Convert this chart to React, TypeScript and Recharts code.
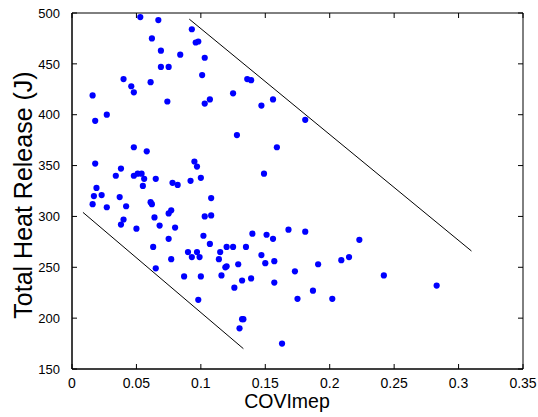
import { ReferenceArea, Scatter, ScatterChart, XAxis, YAxis } from "recharts";

// COVImep vs total heat release
const covImep = [
  0.053, 0.067, 0.093, 0.062, 0.096, 0.098, 0.069, 0.084, 0.103, 0.069, 0.075, 0.04, 0.101, 0.061,
  0.046, 0.048, 0.016, 0.074, 0.103, 0.107, 0.125, 0.027, 0.018, 0.128, 0.048, 0.058, 0.018, 0.095,
  0.097, 0.038, 0.034, 0.048, 0.051, 0.054, 0.056, 0.055, 0.065, 0.078, 0.082, 0.092, 0.1, 0.019,
  0.017, 0.023, 0.016, 0.027, 0.037, 0.042, 0.04, 0.038, 0.05, 0.061, 0.062, 0.064, 0.068, 0.063,
  0.065, 0.075, 0.077, 0.08, 0.075, 0.077, 0.087, 0.09, 0.093, 0.097, 0.099, 0.1, 0.098, 0.103,
  0.108, 0.108, 0.102, 0.107, 0.115, 0.114, 0.12, 0.125, 0.12, 0.119, 0.116, 0.126, 0.129, 0.132,
  0.139, 0.135, 0.14, 0.147, 0.15, 0.151, 0.156, 0.157, 0.157, 0.168, 0.173, 0.175, 0.181, 0.187,
  0.191, 0.202, 0.209, 0.215, 0.223, 0.242, 0.132, 0.133, 0.13, 0.163, 0.136, 0.139, 0.156, 0.147,
  0.181, 0.159, 0.149, 0.283
];
const heatRelease = [
  496, 493, 484, 475, 471, 472, 463, 459, 456, 447, 447, 435, 439, 432, 428, 422, 419, 413, 411,
  415, 421, 400, 394, 380, 368, 364, 352, 354, 349, 347, 340, 340, 342, 342, 337, 330, 337, 333,
  331, 335, 338, 328, 320, 321, 312, 309, 319, 310, 297, 292, 288, 314, 312, 299, 291, 270, 249,
  303, 306, 289, 278, 258, 241, 265, 260, 265, 260, 241, 218, 300, 318, 301, 281, 273, 265, 258,
  270, 270, 251, 250, 242, 230, 253, 237, 239, 270, 283, 262, 254, 282, 278, 256, 235, 287, 246,
  219, 285, 227, 253, 219, 257, 260, 277, 242, 199, 199, 190, 175, 435, 434, 415, 409, 395, 368,
  342, 232
];

// the two bounding lines
const upperLineX = [0.091, 0.31];
const upperLineY = [494, 266];
const lowerLineX = [0.0085, 0.133];
const lowerLineY = [304, 170];

const xTicks = [0, 0.05, 0.1, 0.15, 0.2, 0.25, 0.3, 0.35];
const yTicks = [150, 200, 250, 300, 350, 400, 450, 500];

const points = covImep.map((x, i) => ({ x, y: heatRelease[i] }));
const upperLine = upperLineX.map((x, i) => ({ x, y: upperLineY[i] }));
const lowerLine = lowerLineX.map((x, i) => ({ x, y: lowerLineY[i] }));

const font = "'Liberation Sans', Arial, sans-serif";

// plot box (matches the chart margins below)
const TOP = 13;
const BOTTOM = 369;
const LEFT = 72;
const RIGHT = 523;
const TICK = 5;

// matlab style: ticks point inwards on all four sides
const XTick = ({ x, payload }: any) => (
  <g>
    <line x1={x} x2={x} y1={BOTTOM} y2={BOTTOM - TICK} stroke="#000" />
    <line x1={x} x2={x} y1={TOP} y2={TOP + TICK} stroke="#000" />
    <text x={x} y={BOTTOM + 9} dy="0.71em" textAnchor="middle" fontSize={14} fontFamily={font} fill="#000">
      {payload.value}
    </text>
  </g>
);

const YTick = ({ y, payload }: any) => (
  <g>
    <line x1={LEFT} x2={LEFT + TICK} y1={y} y2={y} stroke="#000" />
    <line x1={RIGHT} x2={RIGHT - TICK} y1={y} y2={y} stroke="#000" />
    <text x={LEFT - 12} y={y} dy="0.36em" textAnchor="end" fontSize={13} fontFamily={font} fill="#000">
      {payload.value}
    </text>
  </g>
);

const YTitle = () => {
  const cx = 23;
  const cy = 195;
  return (
    <text
      x={cx}
      y={cy}
      transform={`rotate(-90 ${cx} ${cy})`}
      textAnchor="middle"
      dominantBaseline="central"
      fontSize={25}
      fontFamily={font}
      fill="#000"
    >
      Total Heat Release (J)
    </text>
  );
};

const XTitle = () => (
  <text x={287} y={408} textAnchor="middle" fontSize={19.5} fontFamily={font} fill="#000">
    COVImep
  </text>
);

const dot = ({ cx, cy }: any) => <circle cx={cx} cy={cy} r={3.1} fill="#0000ff" />;
const noDot = () => <g />;

export default function App() {
  return (
    <div style={{ position: "absolute", left: 0, top: 0, background: "#fff" }}>
      <ScatterChart width={538} height={417} margin={{ top: TOP, right: 538 - RIGHT, bottom: 0, left: 0 }}>
        <XAxis
          type="number"
          dataKey="x"
          domain={[0, 0.35]}
          ticks={xTicks}
          interval={0}
          height={417 - BOTTOM}
          tickLine={false}
          tickSize={0}
          stroke="#000"
          tick={<XTick />}
          label={<XTitle />}
        />
        <YAxis
          type="number"
          dataKey="y"
          domain={[150, 500]}
          ticks={yTicks}
          interval={0}
          width={LEFT}
          tickLine={false}
          tickSize={0}
          stroke="#000"
          tick={<YTick />}
          label={<YTitle />}
        />
        <ReferenceArea x1={0} x2={0.35} y1={150} y2={500} fill="none" stroke="#000" strokeWidth={1} ifOverflow="visible" />
        <Scatter data={points} shape={dot} isAnimationActive={false} />
        <Scatter
          data={upperLine}
          line={{ stroke: "#000", strokeWidth: 1 }}
          shape={noDot}
          isAnimationActive={false}
        />
        <Scatter
          data={lowerLine}
          line={{ stroke: "#000", strokeWidth: 1 }}
          shape={noDot}
          isAnimationActive={false}
        />
      </ScatterChart>
    </div>
  );
}
